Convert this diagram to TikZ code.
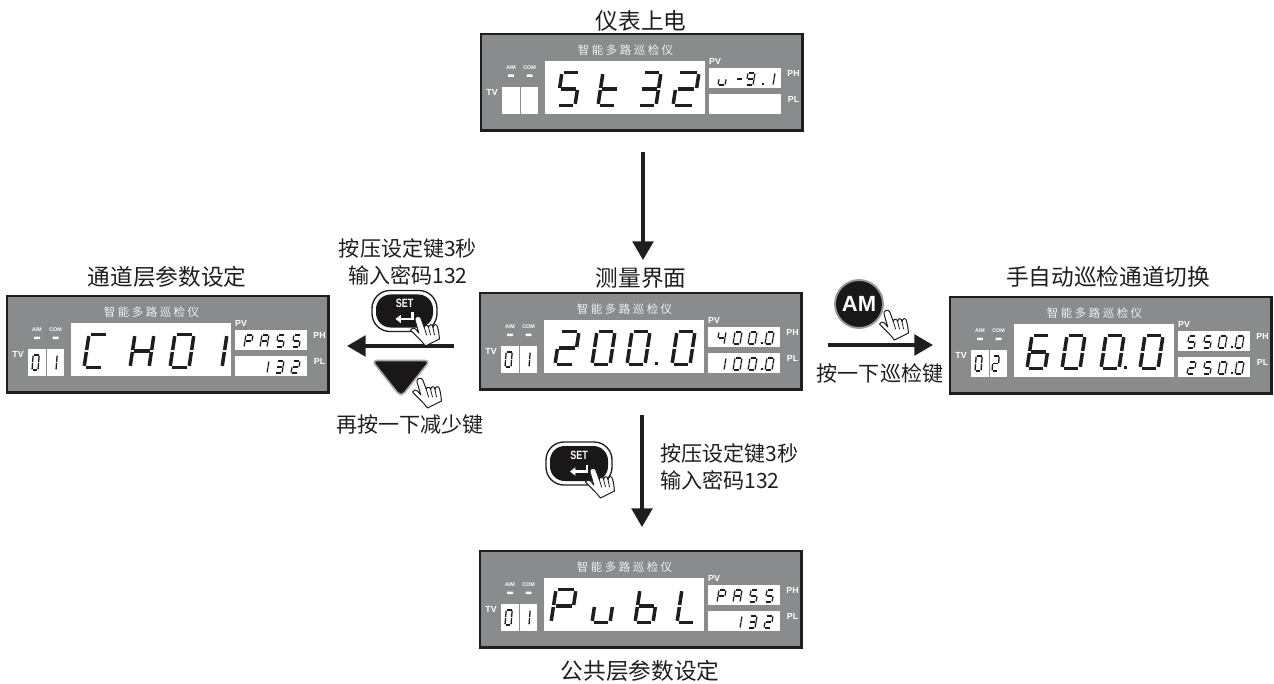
\documentclass[tikz,border=0pt]{standalone}
\usepackage{fontspec}
\setmainfont{Liberation Sans}
\newfontfamily\cjk{Noto Sans CJK SC}
\newfontfamily\cjkspaced[LetterSpace=22]{Noto Sans CJK SC}
\usetikzlibrary{arrows.meta}
\definecolor{panelgray}{HTML}{8A8B8D}
\definecolor{inkdark}{HTML}{1E1E1E}
\definecolor{btnblack}{HTML}{1A1718}
\tikzset{
  px/.style={x=0.75pt,y=-0.75pt},
  panelbox/.style={draw=inkdark,fill=panelgray,line width=2pt,minimum width=241pt,minimum height=72.5pt,inner sep=0pt,outer sep=0pt},
  win/.style={fill=white,draw=none},
  seg/.style={draw=inkdark,line cap=butt},
  caption/.style={font=\cjk\fontsize{17pt}{18pt}\selectfont,text=inkdark,inner sep=0pt},
  note/.style={font=\cjk\fontsize{15.8pt}{17pt}\selectfont,text=inkdark,inner sep=0pt},
  ptitle/.style={font=\cjkspaced\fontsize{8.6pt}{10pt}\selectfont,text=white!88!panelgray,inner sep=0pt},
  plabel/.style={font=\bfseries\fontsize{6.6pt}{7pt}\selectfont,text=white,inner sep=0pt},
  ptiny/.style={font=\bfseries\fontsize{4pt}{4pt}\selectfont,text=white,inner sep=0pt},
  flow/.style={draw=inkdark,line width=2.7pt,-{Triangle[length=14pt,width=15.5pt]}},
  handshape/.style={fill=white,draw=inkdark,line width=0.75pt,line join=round},
  handline/.style={draw=inkdark,line width=0.6pt,line cap=round},
}
% segment geometry (u across, v down)
\def\sga{(.10,0)--(.90,0)}
\def\sgb{(1,.05)--(1,.47)}
\def\sgc{(1,.53)--(1,.95)}
\def\sgd{(.10,1)--(.90,1)}
\def\sge{(0,.53)--(0,.95)}
\def\sgf{(0,.05)--(0,.47)}
\def\sgg{(.10,.5)--(.90,.5)}
\def\zO{a,b,c,d,e,f}
\def\zI{b,c}
\def\zII{a,b,g,e,d}
\def\zIII{a,b,g,c,d}
\def\zIV{f,g,b,c}
\def\zV{a,f,g,c,d}
\def\zVI{a,f,g,e,d,c}
\def\zIX{a,b,c,d,f,g}
\def\zP{a,b,g,e,f}
\def\zA{a,b,c,e,f,g}
\def\zC{a,d,e,f}
\def\zH{b,c,e,f,g}
\def\zt{d,e,f,g}
\def\zu{c,d,e}
\def\zb{c,d,e,f,g}
\def\zL{d,e,f}
\def\zm{g}
% #1 x #2 y #3 w #4 h #5 slant #6 line width px #7 segment list macro
\newcommand\sdig[7]{%
  \begin{scope}[shift={({#1+#5},#2)},x={(#3*0.75pt,0pt)},y={(-#5*0.75pt,-#4*0.75pt)}]
    \foreach \s in #7 {\draw[seg,line width=#6*0.75pt] \csname sg\s\endcsname;}
  \end{scope}}
\newcommand\bigd[3][18]{\sdig{#2}{38.5}{#1}{33}{5}{3.5}{#3}}
\newcommand\upd[2]{\sdig{#1}{39}{7}{12}{2}{1.3}{#2}}
\newcommand\lod[2]{\sdig{#1}{65}{7}{12}{2}{1.3}{#2}}
\newcommand\tvd[2]{\sdig{#1}{59}{6}{15}{1.2}{1.3}{#2}}
\newcommand\dotmark[3][2.2]{\fill[inkdark] (#2-#1/2-0.0,#3-#1/2) rectangle (#2+#1/2,#3+#1/2);}
% panel: #1 name, #2 x, #3 y
\newcommand\panel[3]{%
  \node[panelbox,anchor=north west] (#1) at (#2,#3) {};
  \begin{scope}[shift={(#2,#3)}]
    \node[ptitle] (#1-title) at (144.5,16) {智能多路巡检仪};
    \fill[win] (64,27) rectangle (224,80);
    \fill[win] (21,53) rectangle (38.5,80);
    \fill[win] (40,53) rectangle (57,80);
    \fill[win] (228,34) rectangle (300,54);
    \fill[win] (228,60) rectangle (300,80);
    \node[plabel] (#1-pv) at (234,27.5) {PV};
    \node[plabel] (#1-ph) at (312.5,39) {PH};
    \node[plabel] (#1-pl) at (312.5,65) {PL};
    \node[plabel] (#1-tv) at (11,58.5) {TV};
    \node[ptiny] (#1-am) at (30,34) {A/M};
    \node[ptiny] (#1-com) at (48.5,34) {COM};
    \fill[white,rounded corners=0.5pt] (27,40.5) rectangle (33,43);
    \fill[white,rounded corners=0.5pt] (45.5,40.5) rectangle (51.5,43);
  \end{scope}}
\newcommand\hand[2]{%
  \begin{scope}[shift={(#1,#2)}]
    \draw[handshape] (-7.5,14) .. controls (-6.5,11.5) and (-4,11.5) .. (-2.5,13)
      -- (0.8,17) -- (-3,4) .. controls (-4,0.5) and (1.5,-1.5) .. (2.8,2)
      -- (6.3,11.5) .. controls (6.5,8.5) and (10,8.5) .. (10.6,11.5)
      .. controls (11,8) and (14.5,7.5) .. (15,11.5)
      .. controls (15.5,8) and (19,7.5) .. (19.5,11)
      .. controls (21,16) and (21,20) .. (21.5,23)
      -- (7.5,30) .. controls (3,24) and (-3,19) .. cycle;
    \draw[handline] (6.3,11.5) -- (8.6,19);
    \draw[handline] (10.6,11.5) -- (12.5,19);
    \draw[handline] (15,11.5) -- (16.5,19);
  \end{scope}}
\newcommand\setbtn[5]{% name, cx, cy, w, h
  \begin{scope}[shift={(#2,#3)}]
    \draw[fill=white,draw=inkdark,line width=1pt,rounded corners=13.5pt] (-#4/2,-#5/2) rectangle (#4/2,#5/2);
    \fill[btnblack,rounded corners=11pt] ({-#4/2+4},{-#5/2+4}) rectangle ({#4/2-4},{#5/2-4});
    \node[font=\bfseries\fontsize{9pt}{9pt}\selectfont,text=white,inner sep=0pt] (#1-label) at (0,-8) {\scalebox{.75}[1]{SET}};
    \draw[white,line width=1.6pt,-{Triangle[length=4pt,width=6pt]}] (8,1) -- (8,8) -- (-9,8);
  \end{scope}}
\begin{document}
\begin{tikzpicture}[px]
\useasboundingbox (0,0) rectangle (1274,684);
% panels
\panel{top}{481}{34}
\panel{mid}{480}{293}
\panel{lft}{7}{296}
\panel{rgt}{950}{297}
\panel{bot}{480}{551}
% top display
\begin{scope}[shift={(481,34)}]
  \bigd{76}{\zV}\bigd{117}{\zt}\bigd{157}{\zIII}\bigd[21]{192}{\zII}
  \upd{237}{\zu}\upd{254}{\zm}\upd{265}{\zIX}\upd{285}{\zI}
  \dotmark{282}{50}
\end{scope}
% middle display
\begin{scope}[shift={(480,293)}]
  \bigd[19]{75}{\zII}\bigd{112}{\zO}\bigd{147}{\zO}\bigd{192}{\zO}
  \dotmark[3]{176}{70}
  \upd{237}{\zIV}\upd{253}{\zO}\upd{268}{\zO}\upd{285}{\zO}\dotmark{282}{50}
  \lod{237}{\zI}\lod{253}{\zO}\lod{268}{\zO}\lod{285}{\zO}\dotmark{282}{76}
  \tvd{25}{\zO}\tvd{43}{\zI}
\end{scope}
% left display
\begin{scope}[shift={(7,296)}]
  \bigd[19]{77}{\zC}\bigd[19]{123}{\zH}\bigd[19]{163}{\zO}\bigd[19]{196}{\zI}
  \upd{237}{\zP}\upd{253}{\zA}\upd{269}{\zV}\upd{285}{\zV}
  \lod{253}{\zI}\lod{268}{\zIII}\lod{284}{\zII}
  \tvd{25}{\zO}\tvd{43}{\zI}
\end{scope}
% right display
\begin{scope}[shift={(950,297)}]
  \bigd{77}{\zVI}\bigd{112}{\zO}\bigd{151}{\zO}\bigd{190}{\zO}
  \dotmark[3]{175}{70}
  \upd{237}{\zV}\upd{253}{\zV}\upd{268}{\zO}\upd{285}{\zO}\dotmark{282}{50}
  \lod{237}{\zII}\lod{253}{\zV}\lod{268}{\zO}\lod{285}{\zO}\dotmark{282}{76}
  \tvd{25}{\zO}\tvd{42}{\zII}
\end{scope}
% bottom display
\begin{scope}[shift={(480,551)}]
  \bigd[20]{71}{\zP}\bigd{112}{\zu}\bigd{155}{\zb}\bigd{197}{\zL}
  \upd{237}{\zP}\upd{253}{\zA}\upd{269}{\zV}\upd{285}{\zV}
  \lod{253}{\zI}\lod{268}{\zIII}\lod{284}{\zII}
  \tvd{25}{\zO}\tvd{43}{\zI}
\end{scope}
% captions
\node[caption] (c-top) at (641,21) {仪表上电};
\node[caption] (c-mid) at (641,278) {测量界面};
\node[caption] (c-lft) at (167,277) {通道层参数设定};
\node[caption] (c-rgt) at (1108,277) {手自动巡检通道切换};
\node[caption] (c-bot) at (640,671) {公共层参数设定};
% free ends
\coordinate (a1s) at (643,152);
\coordinate (a1e) at (643,260);
\coordinate (a2s) at (454,346);
\coordinate (a2e) at (347,346);
\coordinate (a3s) at (828,345);
\coordinate (a3e) at (933,345);
\coordinate (a4s) at (642,415);
\coordinate (a4e) at (642,527);
\draw[flow] (a1s) -- (a1e);
\draw[flow] (a2s) -- (a2e);
\draw[flow] (a3s) -- (a3e);
\draw[flow] (a4s) -- (a4e);
% left arrow buttons
\setbtn{s1}{404.5}{311}{65}{41}
\hand{418}{316}
\draw[fill=btnblack,draw=black!35,line width=1.2pt,line join=round,rounded corners=4pt] (372,360.5) -- (430,360.5) -- (401,397) -- cycle;
\hand{420}{378}
% bottom button
\setbtn{s2}{579}{463.5}{66}{43}
\hand{593}{468}
% AM button
\draw[fill=btnblack,draw=black!40,line width=1.4pt] (859,304) circle (24);
\node[font=\bfseries\fontsize{16.5pt}{17pt}\selectfont,text=white,inner sep=0pt] (am-label) at (859,304) {AM};
\hand{887}{310}
% notes
\node[note] (n1) at (408,248) {按压设定键3秒};
\node[note] (n2) at (408,275) {输入密码132};
\node[note] (n3) at (410,424) {再按一下减少键};
\node[note] (n4) at (880,373) {按一下巡检键};
\node[note,anchor=west] (n5) at (660,453) {按压设定键3秒};
\node[note,anchor=west] (n6) at (660,480) {输入密码132};
\end{tikzpicture}
\end{document}
